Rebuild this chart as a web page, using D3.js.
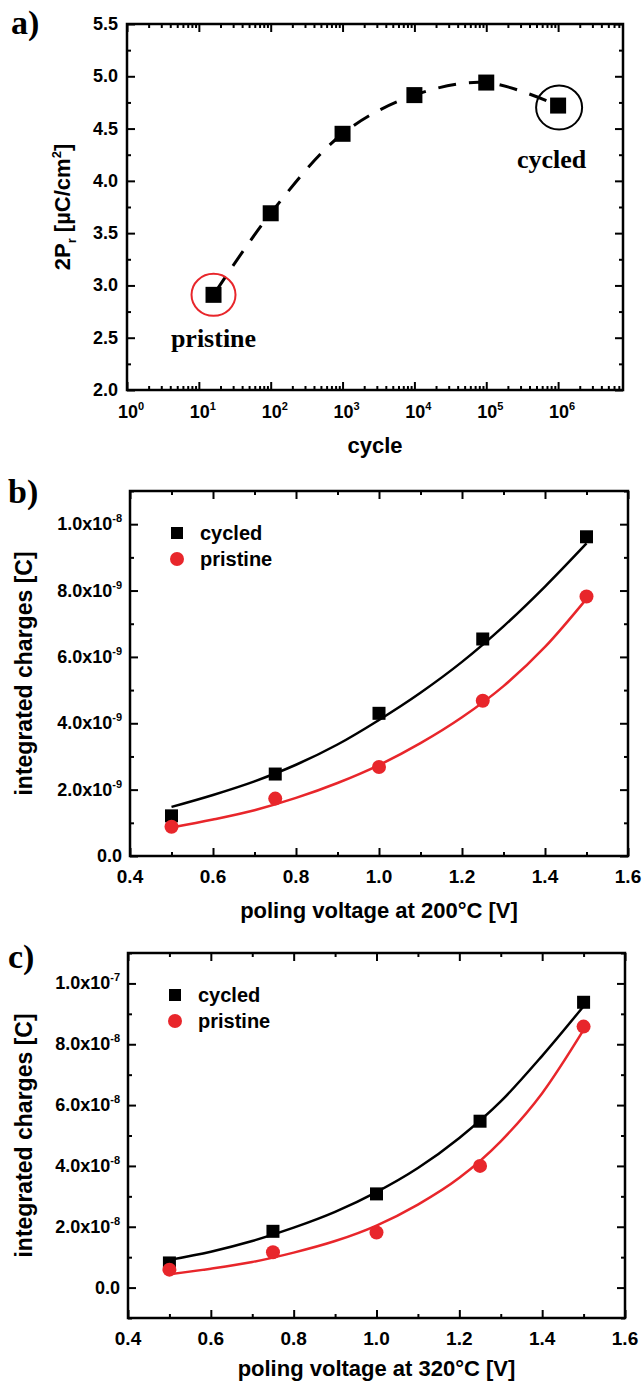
<!DOCTYPE html>
<html>
<head>
<meta charset="utf-8">
<script src="https://cdn.jsdelivr.net/npm/d3@7/dist/d3.min.js"></script>
<style>
  body { margin: 0; background: #fff; }
  text { font-family: "Liberation Sans", Arial, sans-serif; font-weight: bold; fill: #000; }
  .serif { font-family: "Liberation Serif", "Times New Roman", serif; }
  .domain { display: none; }
  .tick line { stroke: #000; stroke-width: 2; }
</style>
</head>
<body>
<script>
// ---- panel a : remanent polarisation vs. cycle number
var cycleCounts = [16, 1e2, 1e3, 1e4, 1e5, 1e6];
var pr2Values = [2.91, 3.69, 4.45, 4.82, 4.94, 4.72];
var cycleTickExps = [0, 1, 2, 3, 4, 5, 6];
var pr2Ticks = [2.0, 2.5, 3.0, 3.5, 4.0, 4.5, 5.0, 5.5];

// ---- panels b, c : integrated charges vs. poling voltage
var voltages = [0.5, 0.75, 1.0, 1.25, 1.5];
var q200Cycled = [1.21e-9, 2.47e-9, 4.30e-9, 6.54e-9, 9.62e-9];
var q200Pristine = [0.88e-9, 1.73e-9, 2.68e-9, 4.68e-9, 7.82e-9];
var q320Cycled = [0.81e-8, 1.85e-8, 3.08e-8, 5.47e-8, 9.38e-8];
var q320Pristine = [0.59e-8, 1.16e-8, 1.81e-8, 4.00e-8, 8.58e-8];

// fit curves
var fitVoltages = [0.5, 0.6, 0.7, 0.8, 0.9, 1.0, 1.1, 1.2, 1.3, 1.4, 1.5];
var fit200Cycled = [1.48e-9, 1.84e-9, 2.25e-9, 2.75e-9, 3.36e-9, 4.10e-9, 4.92e-9, 5.85e-9, 6.92e-9, 8.12e-9, 9.42e-9];
var fit200Pristine = [0.86e-9, 1.10e-9, 1.38e-9, 1.75e-9, 2.20e-9, 2.74e-9, 3.40e-9, 4.18e-9, 5.12e-9, 6.30e-9, 7.75e-9];
var fit320Cycled = [0.91e-8, 1.18e-8, 1.53e-8, 1.97e-8, 2.49e-8, 3.14e-8, 3.93e-8, 4.92e-8, 6.12e-8, 7.62e-8, 9.25e-8];
var fit320Pristine = [0.44e-8, 0.62e-8, 0.84e-8, 1.15e-8, 1.53e-8, 2.04e-8, 2.73e-8, 3.61e-8, 4.81e-8, 6.39e-8, 8.47e-8];

var voltTicks = [0.4, 0.6, 0.8, 1.0, 1.2, 1.4, 1.6];
var voltMinor = [0.5, 0.7, 0.9, 1.1, 1.3, 1.5];
var q200Ticks = [0, 2e-9, 4e-9, 6e-9, 8e-9, 1e-8];
var q200Minor = [1e-9, 3e-9, 5e-9, 7e-9, 9e-9, 1.1e-8];
var q320Ticks = [0, 2e-8, 4e-8, 6e-8, 8e-8, 1e-7];
var q320Minor = [-1e-8, 1e-8, 3e-8, 5e-8, 7e-8, 9e-8, 1.1e-7];

var RED = "#e8262b";

var svg = d3.select("body").append("svg")
    .attr("width", 643)
    .attr("height", 1383);

// draws inward ticks on all four sides + the box
function frame(p, x, y, xMaj, xMin, yMaj, yMin) {
  var g = svg.append("g");
  [[xMaj, 8], [xMin, 4]].forEach(function(t){
    g.append("g").attr("transform", "translate(0," + p.bottom + ")")
      .call(d3.axisBottom(x).tickValues(t[0]).tickSize(-t[1]).tickFormat(""));
    g.append("g").attr("transform", "translate(0," + p.top + ")")
      .call(d3.axisTop(x).tickValues(t[0]).tickSize(-t[1]).tickFormat(""));
  });
  [[yMaj, 8], [yMin, 4]].forEach(function(t){
    g.append("g").attr("transform", "translate(" + p.left + ",0)")
      .call(d3.axisLeft(y).tickValues(t[0]).tickSize(-t[1]).tickFormat(""));
    g.append("g").attr("transform", "translate(" + p.right + ",0)")
      .call(d3.axisRight(y).tickValues(t[0]).tickSize(-t[1]).tickFormat(""));
  });
  g.append("rect")
    .attr("x", p.left).attr("y", p.top)
    .attr("width", p.right - p.left).attr("height", p.bottom - p.top)
    .attr("fill", "none").attr("stroke", "#000").attr("stroke-width", 2.5);
}

function panelLetter(txt, x, y) {
  svg.append("text").attr("class", "serif")
    .attr("x", x).attr("y", y)
    .style("font-size", "34px")
    .text(txt);
}

// ================= panel a =================
var pa = {left: 127, right: 623, top: 24, bottom: 390};
var xa = d3.scaleLog().domain([1, 8e6]).range([pa.left, pa.right]);
var ya = d3.scaleLinear().domain([2, 5.5]).range([pa.bottom, pa.top]);

var xaMinor = [];
for (var e = 0; e <= 6; e++) {
  for (var m = 2; m <= 9; m++) {
    var v = m * Math.pow(10, e);
    if (v < 8e6) xaMinor.push(v);
  }
}
var yaMinor = [2.25, 2.75, 3.25, 3.75, 4.25, 4.75, 5.25];

frame(pa, xa, ya, cycleTickExps.map(function(d){ return Math.pow(10, d); }), xaMinor, pr2Ticks, yaMinor);

// dashed guide through the points
var lineA = d3.line()
  .x(function(d, i){ return xa(cycleCounts[i]); })
  .y(function(d){ return ya(d); })
  .curve(d3.curveCatmullRom);
svg.append("path")
  .attr("d", lineA(pr2Values))
  .attr("fill", "none")
  .attr("stroke", "#000")
  .attr("stroke-width", 3)
  .attr("stroke-dasharray", "18,13")
  .attr("stroke-dashoffset", -4);

svg.append("g").selectAll("rect")
  .data(pr2Values)
  .enter().append("rect")
  .attr("x", function(d, i){ return xa(cycleCounts[i]) - 8; })
  .attr("y", function(d){ return ya(d) - 8; })
  .attr("width", 16).attr("height", 16)
  .attr("fill", "#000");

// highlight circles
svg.append("ellipse")
  .attr("cx", xa(cycleCounts[0])).attr("cy", ya(pr2Values[0]))
  .attr("rx", 22).attr("ry", 21)
  .attr("fill", "none").attr("stroke", RED).attr("stroke-width", 2);
svg.append("ellipse")
  .attr("cx", xa(cycleCounts[5]) + 1).attr("cy", ya(pr2Values[5]) + 2)
  .attr("rx", 23).attr("ry", 22)
  .attr("fill", "none").attr("stroke", "#000").attr("stroke-width", 2);

svg.append("text").attr("class", "serif")
  .attr("x", xa(cycleCounts[0])).attr("y", ya(2.49) + 8)
  .attr("text-anchor", "middle").style("font-size", "26px")
  .text("pristine");
svg.append("text").attr("class", "serif")
  .attr("x", xa(Math.pow(10, 5.91))).attr("y", ya(4.2) + 8)
  .attr("text-anchor", "middle").style("font-size", "26px")
  .text("cycled");

// tick labels a
svg.append("g").selectAll("text")
  .data(pr2Ticks)
  .enter().append("text")
  .attr("x", pa.left - 9)
  .attr("y", function(d){ return ya(d) + 6; })
  .attr("text-anchor", "end")
  .style("font-size", "18px")
  .text(function(d){ return d.toFixed(1); });

var xl = svg.append("g").selectAll("text")
  .data(cycleTickExps)
  .enter().append("text")
  .attr("x", function(d){ return xa(Math.pow(10, d)) + 4; })
  .attr("y", pa.bottom + 28)
  .attr("text-anchor", "middle")
  .style("font-size", "18px");
xl.append("tspan").text("10");
xl.append("tspan").attr("dy", -8).style("font-size", "11px").text(function(d){ return d; });

svg.append("text")
  .attr("x", (pa.left + pa.right) / 2).attr("y", pa.bottom + 63)
  .attr("text-anchor", "middle").style("font-size", "22px")
  .text("cycle");

var yla = svg.append("text")
  .attr("transform", "translate(70," + ((pa.top + pa.bottom) / 2) + ") rotate(-90)")
  .attr("text-anchor", "middle").style("font-size", "22px");
yla.append("tspan").text("2P");
yla.append("tspan").attr("dy", 6).style("font-size", "13px").text("r");
yla.append("tspan").attr("dy", -6).text(" [\u00b5C/cm");
yla.append("tspan").attr("dy", -9).style("font-size", "13px").text("2");
yla.append("tspan").attr("dy", 9).text("]");

panelLetter("a)", 11, 34);

// ================= panels b and c =================
function chargeLabel(sel) {
  sel.each(function(d){
    var t = d3.select(this);
    if (d === 0) { t.text("0.0"); return; }
    var ex = Math.floor(Math.log10(d) + 1e-9);
    var mant = d / Math.pow(10, ex);
    t.append("tspan").text(mant.toFixed(1) + "x10");
    t.append("tspan").attr("dy", -8).style("font-size", "11px").text(ex);
  });
}

function chargePanel(p, yDomain, yMaj, yMin, fitC, fitP, qC, qP, title, titleY, letter, letterY) {
  var x = d3.scaleLinear().domain([0.4, 1.6]).range([p.left, p.right]);
  var y = d3.scaleLinear().domain(yDomain).range([p.bottom, p.top]);

  frame(p, x, y, voltTicks, voltMinor, yMaj, yMin);

  var line = d3.line()
    .x(function(d, i){ return x(fitVoltages[i]); })
    .y(function(d){ return y(d); })
    .curve(d3.curveMonotoneX);
  svg.append("path").attr("d", line(fitC))
    .attr("fill", "none").attr("stroke", "#000").attr("stroke-width", 2.5);
  svg.append("path").attr("d", line(fitP))
    .attr("fill", "none").attr("stroke", RED).attr("stroke-width", 2.5);

  svg.append("g").selectAll("rect")
    .data(qC)
    .enter().append("rect")
    .attr("x", function(d, i){ return x(voltages[i]) - 6.5; })
    .attr("y", function(d){ return y(d) - 6.5; })
    .attr("width", 13).attr("height", 13)
    .attr("fill", "#000");
  svg.append("g").selectAll("circle")
    .data(qP)
    .enter().append("circle")
    .attr("cx", function(d, i){ return x(voltages[i]); })
    .attr("cy", function(d){ return y(d); })
    .attr("r", 7)
    .attr("fill", RED);

  // legend
  var lx = p.left + 47, ly = p.top + 42;
  svg.append("rect").attr("x", lx - 6).attr("y", ly - 6).attr("width", 12).attr("height", 12).attr("fill", "#000");
  svg.append("text").attr("x", lx + 23).attr("y", ly + 7).style("font-size", "20px").text("cycled");
  svg.append("circle").attr("cx", lx).attr("cy", ly + 26).attr("r", 7).attr("fill", RED);
  svg.append("text").attr("x", lx + 23).attr("y", ly + 33).style("font-size", "20px").text("pristine");

  // tick labels
  svg.append("g").selectAll("text")
    .data(voltTicks)
    .enter().append("text")
    .attr("x", function(d){ return x(d); })
    .attr("y", p.bottom + 27)
    .attr("text-anchor", "middle")
    .style("font-size", "19px")
    .text(function(d){ return d.toFixed(1); });

  svg.append("g").selectAll("text")
    .data(yMaj)
    .enter().append("text")
    .attr("x", p.left - 8)
    .attr("y", function(d){ return y(d) + 6; })
    .attr("text-anchor", "end")
    .style("font-size", "18px")
    .call(chargeLabel);

  svg.append("text")
    .attr("x", (p.left + p.right) / 2).attr("y", p.bottom + titleY)
    .attr("text-anchor", "middle").style("font-size", "22px")
    .text(title);
  svg.append("text")
    .attr("transform", "translate(32," + ((p.top + p.bottom) / 2) + ") rotate(-90)")
    .attr("text-anchor", "middle").style("font-size", "23px")
    .text("integrated charges [C]");

  panelLetter(letter, 8, letterY);
}

chargePanel({left: 130, right: 628, top: 491, bottom: 856}, [0, 1.1e-8], q200Ticks, q200Minor,
  fit200Cycled, fit200Pristine, q200Cycled, q200Pristine,
  "poling voltage at 200\u00b0C [V]", 62, "b)", 503);

chargePanel({left: 128, right: 625, top: 953, bottom: 1318}, [-1e-8, 1.1e-7], q320Ticks, q320Minor,
  fit320Cycled, fit320Pristine, q320Cycled, q320Pristine,
  "poling voltage at 320\u00b0C [V]", 58, "c)", 968);
</script>
</body>
</html>
